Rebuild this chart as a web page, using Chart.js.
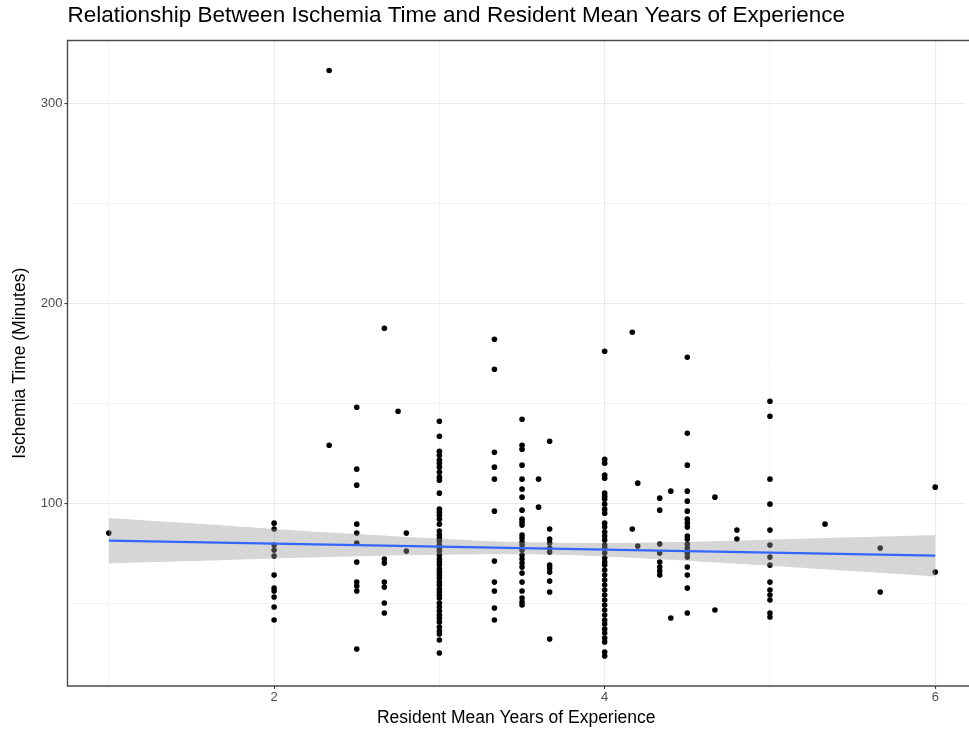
<!DOCTYPE html>
<html><head><meta charset="utf-8">
<script src="https://cdn.jsdelivr.net/npm/chart.js@4.4.1/dist/chart.umd.min.js"></script>
<style>html,body{margin:0;padding:0;background:#fff;}#wrap{width:969px;height:732px;position:relative;}</style>
</head><body><div id="wrap"><canvas id="c"></canvas></div>
<script>
// Resident mean years of experience (one entry per column of points)
const columnX = [1, 2, 2.333, 2.5, 2.667, 2.75, 2.8, 3, 3.333, 3.5, 3.6, 3.667, 4, 4.167, 4.2, 4.333, 4.4, 4.5, 4.667, 4.8, 5, 5.333, 5.667, 6];
// Ischemia time (minutes) for each column
const columnTimes = [
  [85],
  [90, 87, 79, 76.5, 73.5, 64, 57.5, 56, 53, 48, 41.5],
  [316.5, 129],
  [148, 117, 109, 89.5, 85, 80, 70.5, 60.5, 58.5, 56, 27],
  [187.5, 72, 70, 60.5, 58, 50, 45],
  [146],
  [85, 76],
  [141, 133.5, 126, 124, 121.5, 120, 118, 115.5, 113, 111.5, 105, 97, 95.5, 94, 92, 89.5, 86, 84, 82.5, 81, 79, 77.5, 76, 74, 72, 70.5, 69, 67, 65.5, 64, 62.5, 60.5, 59, 57, 55.5, 54, 52.5, 50, 48, 46, 44, 42.5, 40.5, 38, 36, 34.5, 31.5, 25],
  [182, 167, 125.5, 118, 112, 96, 71, 60.5, 56, 47.5, 41.5],
  [142, 129, 127, 119, 112, 107, 103, 96.5, 92, 90.5, 89, 84, 82.5, 80.5, 79, 76.5, 74, 72, 70, 68, 65, 60.5, 56, 52.5, 50.5, 49],
  [112, 98],
  [131, 87, 82, 80, 77.5, 75.5, 69, 67.5, 65.5, 61, 55.5, 32],
  [176, 122, 120, 114, 112.5, 105, 103.5, 102, 99.5, 97, 95, 90, 88, 85.5, 83.5, 81.5, 79, 77.5, 75, 72.5, 70.5, 69, 66.5, 64, 61.5, 59, 56.5, 54, 51.5, 49, 46.5, 44, 41.5, 39.5, 37, 35, 32.5, 30.5, 25.5, 23.5],
  [185.5, 87],
  [110, 78.5],
  [102.5, 96.5, 79.5, 75, 70.5, 68, 66, 64],
  [106, 42.5],
  [173, 135, 119, 106, 101, 96, 92, 90, 88, 83.5, 82, 79.5, 77.5, 75, 73, 68, 64, 57.5, 45],
  [103, 46.5],
  [86.5, 82],
  [151, 143.5, 112, 99.5, 86.5, 79, 73, 69, 60.5, 56.5, 54, 51.5, 45, 43],
  [89.5],
  [77.5, 55.5],
  [108, 65.5]
];
// Linear fit line and its confidence band
const fitX = [1, 6];
const fitY = [81.2, 73.7];
const bandX = [1, 1.5, 2, 2.5, 3, 3.5, 4, 4.5, 5, 5.5, 6];
const bandUpper = [92.6, 89.9, 87.1, 84.5, 82.2, 80.5, 80.1, 80.7, 81.7, 82.9, 84.1];
const bandLower = [69.8, 71.0, 72.3, 73.4, 74.2, 74.4, 73.3, 71.2, 68.7, 66.0, 63.3];
// Tick labels
const xTickLabels = ['2', '4', '6'];
const yTickLabels = ['100', '200', '300'];

const pts = [];
columnX.forEach((x, i) => columnTimes[i].forEach(y => pts.push({x, y})));
const fitData = fitX.map((x, i) => ({x, y: fitY[i]}));
const upData = bandX.map((x, i) => ({x, y: bandUpper[i]}));
const loData = bandX.map((x, i) => ({x, y: bandLower[i]}));

const panelBorder = {
  id: 'panelBorder',
  afterDatasetsDraw(chart) {
    const {ctx, chartArea: a} = chart;
    ctx.save();
    ctx.strokeStyle = '#4a4a4a';
    ctx.lineWidth = 1.4;
    ctx.beginPath();
    ctx.moveTo(a.right + 5, a.top); ctx.lineTo(a.left, a.top);
    ctx.lineTo(a.left, a.bottom); ctx.lineTo(a.right + 5, a.bottom);
    ctx.stroke();
    ctx.restore();
  }
};

const isMajorX = v => xTickLabels.includes(String(v));
const isMajorY = v => yTickLabels.includes(String(v));
const FONT = "'Liberation Sans', Arial, sans-serif";

new Chart(document.getElementById('c'), {
  type: 'scatter',
  data: {
    datasets: [
      {label: 'fit', type: 'line', data: fitData, borderColor: '#3366FF', borderWidth: 2.2, pointRadius: 0, fill: false, order: 0},
      {label: 'upper', type: 'line', data: upData, borderWidth: 0, borderColor: 'rgba(0,0,0,0)', pointRadius: 0, tension: 0.4, fill: '+1', backgroundColor: 'rgba(153,153,153,0.4)', order: 1},
      {label: 'lower', type: 'line', data: loData, borderWidth: 0, borderColor: 'rgba(0,0,0,0)', pointRadius: 0, tension: 0.4, fill: false, order: 1},
      {label: 'points', data: pts, backgroundColor: '#000', borderColor: '#000', borderWidth: 0, pointRadius: 2.8, order: 2}
    ]
  },
  options: {
    responsive: true, maintainAspectRatio: false, animation: false,
    devicePixelRatio: 1,
    layout: {padding: {left: 0, right: 0, top: 0, bottom: 0}},
    plugins: {
      legend: {display: false}, tooltip: {enabled: false},
      title: {
        display: true, fullSize: false, align: 'start', color: '#000',
        text: 'Relationship Between Ischemia Time and Resident Mean Years of Experience',
        font: {family: FONT, size: 22.5, weight: 'normal', lineHeight: 1.2},
        padding: {top: 2.5, bottom: 11}
      }
    },
    scales: {
      x: {
        type: 'linear', min: 0.75, max: 6.18,
        afterFit(s) { s.height = 46; s.paddingLeft = 0; s.paddingRight = 0; },
        ticks: {
          stepSize: 1, includeBounds: false, autoSkip: false, maxRotation: 0, padding: 1,
          color: '#4D4D4D', font: {family: FONT, size: 13},
          callback: v => isMajorX(v) ? String(v) : ''
        },
        grid: {
          color: '#EBEBEB', lineWidth: c => (c.tick && isMajorX(c.tick.value)) ? 1.1 : 0.6,
          tickColor: c => (c.tick && isMajorX(c.tick.value)) ? '#333333' : 'rgba(0,0,0,0)',
          tickLength: 3, tickWidth: 1.1
        },
        border: {display: false},
        title: {display: true, text: 'Resident Mean Years of Experience', color: '#000',
          font: {family: FONT, size: 17.5}, padding: {top: 0, bottom: 3.5}}
      },
      y: {
        type: 'linear', min: 8.5, max: 331.5,
        afterFit(s) { s.width = 67.5; s.paddingTop = 0; s.paddingBottom = 0; },
        ticks: {
          stepSize: 50, includeBounds: false, padding: 2,
          color: '#4D4D4D', font: {family: FONT, size: 13},
          callback: v => isMajorY(v) ? String(v) : ''
        },
        grid: {
          color: '#EBEBEB', lineWidth: c => (c.tick && isMajorY(c.tick.value)) ? 1.1 : 0.6,
          tickColor: c => (c.tick && isMajorY(c.tick.value)) ? '#333333' : 'rgba(0,0,0,0)',
          tickLength: 3, tickWidth: 1.1
        },
        border: {display: false},
        title: {display: true, text: 'Ischemia Time (Minutes)', color: '#000',
          font: {family: FONT, size: 17.5}, padding: {top: 9.5, bottom: 0}}
      }
    }
  },
  plugins: [panelBorder]
});
</script></body></html>
